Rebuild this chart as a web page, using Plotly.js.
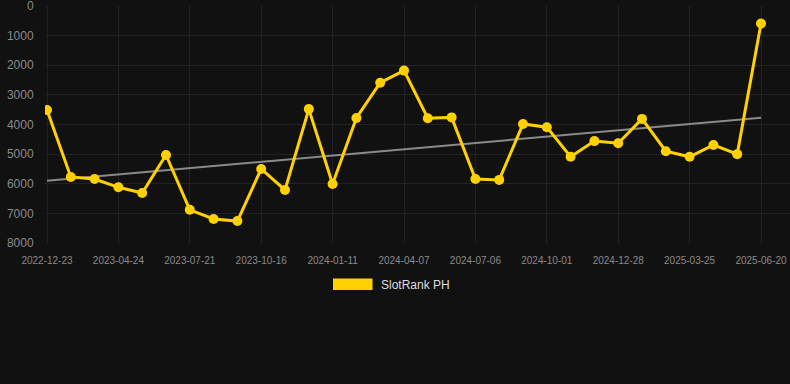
<!DOCTYPE html>
<html>
<head>
<meta charset="utf-8">
<script src="https://cdn.plot.ly/plotly-3.0.1.min.js"></script>
<style>
html,body{margin:0;padding:0;background:#111111;}
#chart{width:790px;height:384px;}
</style>
</head>
<body>
<div id="chart"></div>
<script>
var dates = [
  "2022-12-23","2023-02-02","2023-03-15","2023-04-24","2023-05-23","2023-06-21",
  "2023-07-21","2023-08-19","2023-09-17","2023-10-16","2023-11-14","2023-12-13",
  "2024-01-11","2024-02-09","2024-03-09","2024-04-07","2024-05-07","2024-06-06",
  "2024-07-06","2024-08-04","2024-09-02","2024-10-01","2024-10-30","2024-11-28",
  "2024-12-28","2025-01-26","2025-02-24","2025-03-25","2025-04-23","2025-05-22",
  "2025-06-20"
];
var rankPH = [
  3510, 5770, 5840, 6120, 6310, 5030,
  6880, 7190, 7260, 5500, 6210, 3480,
  6010, 3780, 2590, 2180, 3790, 3760,
  5840, 5870, 3980, 4090, 5090, 4560,
  4630, 3810, 4900, 5090, 4690, 5000,
  590
];
var trendX = ["2022-12-23","2025-06-20"];
var trendY = [5900, 3770];
var tickLabels = ["2022-12-23","2023-04-24","2023-07-21","2023-10-16","2024-01-11",
  "2024-04-07","2024-07-06","2024-10-01","2024-12-28","2025-03-25","2025-06-20"];
var yTicks = [0,1000,2000,3000,4000,5000,6000,7000,8000];

var L = 45, R = 0, T = 6, B = 141, W = 790, H = 384;
var pw = W - L - R, ph = H - T - B;
function px(x){ return (x - L) / pw; }
function py(y){ return (H - B - y) / ph; }

var traces = [
  {
    x: trendX, y: trendY, type: 'scatter', mode: 'lines',
    line: {color: '#8a8a8a', width: 2}, hoverinfo: 'skip', showlegend: false
  },
  {
    x: dates, y: rankPH, type: 'scatter', mode: 'lines+markers',
    name: 'SlotRank PH',
    line: {color: '#FFD100', width: 3},
    marker: {color: '#FFD100', size: 10},
    showlegend: false
  }
];

var layout = {
  width: W, height: H,
  paper_bgcolor: '#111111', plot_bgcolor: '#111111',
  margin: {l: L, r: R, t: T, b: B},
  showlegend: false,
  font: {family: 'Arial, "Liberation Sans", sans-serif', color: '#888888'},
  xaxis: {
    type: 'category',
    categoryorder: 'array', categoryarray: dates,
    range: [-0.084, 31.218],
    tickmode: 'array', tickvals: tickLabels, ticktext: tickLabels,
    tickfont: {size: 10, color: '#8a8a8a'},
    showgrid: true, gridcolor: '#222222', gridwidth: 1,
    zeroline: false, showline: false,
    ticks: 'outside', ticklen: 8, tickcolor: 'rgba(0,0,0,0)'
  },
  yaxis: {
    range: [8000, -1],
    tickmode: 'array', tickvals: yTicks, ticktext: yTicks.map(String),
    tickfont: {size: 12, color: '#8a8a8a'},
    ticklabeloverflow: 'allow',
    showgrid: true, gridcolor: '#222222', gridwidth: 1,
    zeroline: false, showline: false,
    ticks: 'outside', ticklen: 8, tickcolor: 'rgba(0,0,0,0)'
  },
  shapes: [
    {type: 'rect', xref: 'paper', yref: 'paper',
     x0: px(333), x1: px(372.5), y0: py(290), y1: py(278.5),
     fillcolor: '#FFD100', line: {width: 0}}
  ],
  annotations: [
    {xref: 'paper', yref: 'paper', x: px(378.5), y: py(284.5),
     xanchor: 'left', yanchor: 'middle', showarrow: false,
     text: 'SlotRank PH', font: {size: 12, color: '#dddddd'}}
  ]
};

Plotly.newPlot('chart', traces, layout, {displayModeBar: false, staticPlot: true});
</script>
</body>
</html>
